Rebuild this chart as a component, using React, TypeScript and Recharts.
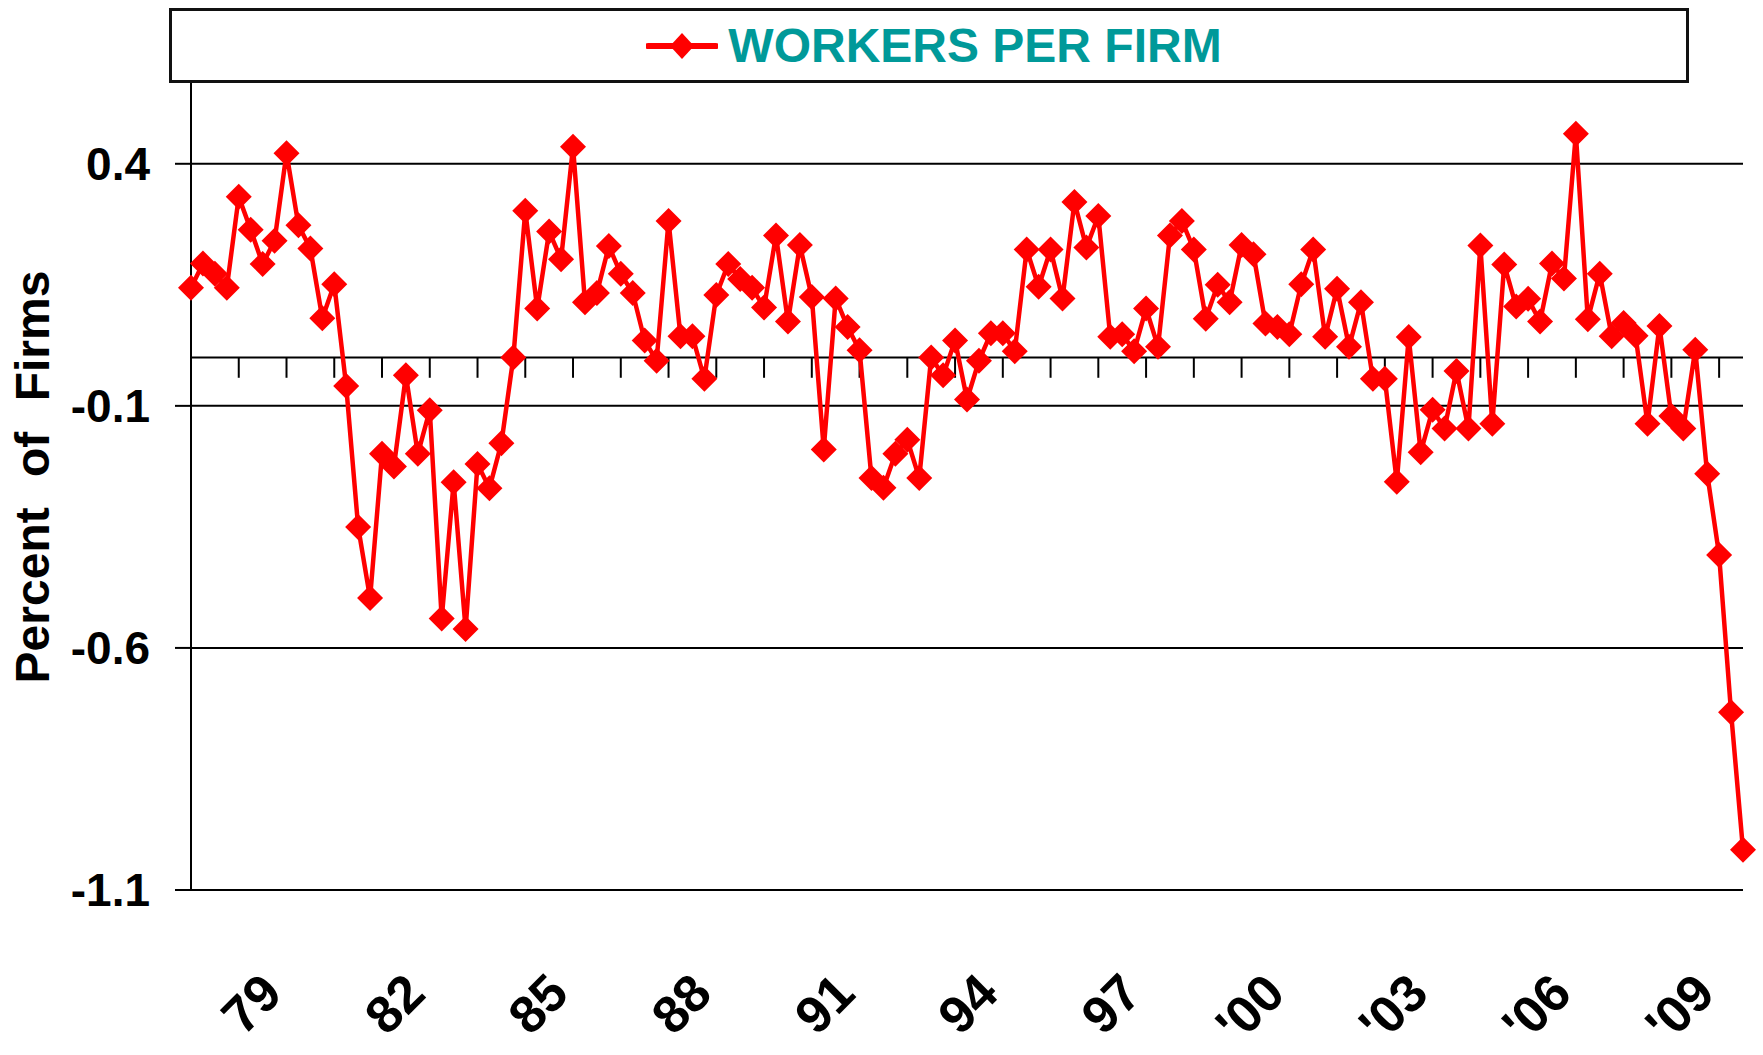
import {
  CartesianGrid,
  Legend,
  Line,
  LineChart,
  ReferenceLine,
  XAxis,
  YAxis,
} from "recharts";

const FONT = '"Liberation Sans", Arial, Helvetica, sans-serif';

// quarterly series, starting 1977 Q1
const startYear = 1977;

const workersPerFirm = [
  0.144, 0.194, 0.173, 0.144, 0.332, 0.264, 0.193, 0.241, 0.422, 0.273,
  0.225, 0.081, 0.151, -0.059, -0.35, -0.497, -0.199, -0.225, -0.037, -0.199,
  -0.109, -0.539, -0.258, -0.561, -0.22, -0.27, -0.177, 0.0, 0.303, 0.101,
  0.26, 0.203, 0.435, 0.114, 0.133, 0.23, 0.173, 0.133, 0.035, -0.007,
  0.282, 0.044, 0.044, -0.044, 0.129, 0.193, 0.162, 0.144, 0.103, 0.252,
  0.074, 0.232, 0.125, -0.19, 0.122, 0.063, 0.015, -0.249, -0.269, -0.199,
  -0.17, -0.249, 0.0, -0.037, 0.035, -0.087, -0.007, 0.05, 0.05, 0.013,
  0.223, 0.146, 0.223, 0.122, 0.321, 0.227, 0.292, 0.043, 0.048, 0.013,
  0.101, 0.022, 0.252, 0.282, 0.223, 0.08, 0.15, 0.114, 0.232, 0.213,
  0.07, 0.063, 0.048, 0.151, 0.223, 0.043, 0.142, 0.022, 0.114, -0.044,
  -0.044, -0.257, 0.042, -0.196, -0.108, -0.147, -0.028, -0.147, 0.231, -0.137,
  0.192, 0.105, 0.121, 0.074, 0.194, 0.163, 0.462, 0.079, 0.173, 0.044,
  0.071, 0.045, -0.137, 0.065, -0.121, -0.147, 0.016, -0.24, -0.408, -0.733,
  -1.017,
];

const quarters = workersPerFirm.map(
  (_, i) => `${startYear + Math.floor(i / 4)} Q${(i % 4) + 1}`
);

const yTicks = [-1.1, -0.6, -0.1, 0.4];
const yTop = 0.571;

const yearLabels = ["79", "82", "85", "88", "91", "94", "97", "'00", "'03", "'06", "'09"];
const labelQuarters = [
  "1979 Q1", "1982 Q1", "1985 Q1", "1988 Q1", "1991 Q1", "1994 Q1",
  "1997 Q1", "2000 Q1", "2003 Q1", "2006 Q1", "2009 Q1",
];

const data = workersPerFirm.map((value, idx) => ({ idx, quarter: quarters[idx], value }));
const labelTicks = labelQuarters.map((q) => quarters.indexOf(q));
const yearStarts = quarters
  .map((q, i) => (q.endsWith("Q1") ? i : -1))
  .filter((i) => i >= 0);
const zeroTickLen = 0.042;

function Diamond(props: any) {
  const { cx, cy } = props;
  if (cx == null || cy == null) return <g key={props.key} />;
  return (
    <path
      key={props.key}
      d={`M${cx},${cy - 13}L${cx + 13},${cy}L${cx},${cy + 13}L${cx - 13},${cy}Z`}
      fill="#ff0000"
    />
  );
}

function YearTick({ x, y, payload }: any) {
  const label = yearLabels[labelTicks.indexOf(payload.value)];
  return (
    <g transform={`translate(${x - 2},${y + 106})`}>
      <text
        textAnchor="end"
        transform="rotate(-45)"
        fontFamily={FONT}
        fontWeight="bold"
        fontSize={52}
        fill="#000"
      >
        {label}
      </text>
    </g>
  );
}

function AxisTitle(props: any) {
  return (
    <text
      transform="translate(49,477) rotate(-90)"
      textAnchor="middle"
      fontFamily={FONT}
      fontWeight="bold"
      fontSize={48}
      fill="#000"
      style={{ wordSpacing: "17px" }}
    >
      {props.value}
    </text>
  );
}

function LegendBox({ payload }: any) {
  const entry = payload && payload[0];
  return (
    <div
      style={{
        width: "100%",
        height: "100%",
        boxSizing: "border-box",
        border: "3px solid #111",
        background: "#fff",
        display: "flex",
        alignItems: "center",
        justifyContent: "center",
        paddingLeft: 10,
      }}
    >
      <svg width={72} height={30} style={{ marginRight: 10 }}>
        <line x1={2} y1={15} x2={70} y2={15} stroke="#ff0000" strokeWidth={6} strokeLinecap="round" />
        <path d="M36,2L48,15L36,28L24,15Z" fill="#ff0000" />
      </svg>
      <span
        style={{
          fontFamily: FONT,
          fontWeight: "bold",
          fontSize: 48,
          color: "#009999",
          lineHeight: 1,
        }}
      >
        {entry ? entry.value : ""}
      </span>
    </div>
  );
}

export default function App() {
  return (
    <div
      style={{
        position: "absolute",
        left: 0,
        top: 0,
        width: 1763,
        height: 1055,
        background: "#fff",
      }}
    >
      <LineChart
        width={1763}
        height={1055}
        data={data}
        margin={{ top: 81, right: 20, bottom: 0, left: 0 }}
      >
        <CartesianGrid
          vertical={false}
          horizontalValues={yTicks}
          syncWithTicks={false}
          stroke="#000"
          strokeWidth={2}
        />
        <XAxis
          type="number"
          dataKey="idx"
          domain={[0, workersPerFirm.length - 1]}
          ticks={labelTicks}
          interval={0}
          axisLine={false}
          tickLine={false}
          tickSize={0}
          tickMargin={0}
          height={165}
          tick={<YearTick />}
        />
        <YAxis
          type="number"
          domain={[yTicks[0], yTop]}
          ticks={yTicks}
          allowDataOverflow
          interval={0}
          width={191}
          tickSize={16}
          tickMargin={25}
          tickFormatter={(v: number) => v.toFixed(1)}
          tick={{ fill: "#000", fontSize: 46, fontWeight: "bold", fontFamily: FONT }}
          axisLine={{ stroke: "#000", strokeWidth: 2 }}
          tickLine={{ stroke: "#000", strokeWidth: 2 }}
          label={{ value: "Percent of Firms", content: AxisTitle }}
        />
        <ReferenceLine y={0} stroke="#000" strokeWidth={2} />
        {yearStarts.map((i) => (
          <ReferenceLine
            key={i}
            segment={[
              { x: i, y: 0 },
              { x: i, y: -zeroTickLen },
            ]}
            stroke="#000"
            strokeWidth={2}
          />
        ))}
        <Legend
          layout="horizontal"
          verticalAlign="middle"
          align="center"
          wrapperStyle={{ position: "absolute", left: 169, top: 8, width: 1520, height: 75 }}
          content={LegendBox}
        />
        <Line
          type="linear"
          dataKey="value"
          name="WORKERS PER FIRM"
          stroke="#ff0000"
          strokeWidth={4.5}
          dot={Diamond}
          activeDot={false}
          isAnimationActive={false}
        />
      </LineChart>
    </div>
  );
}
